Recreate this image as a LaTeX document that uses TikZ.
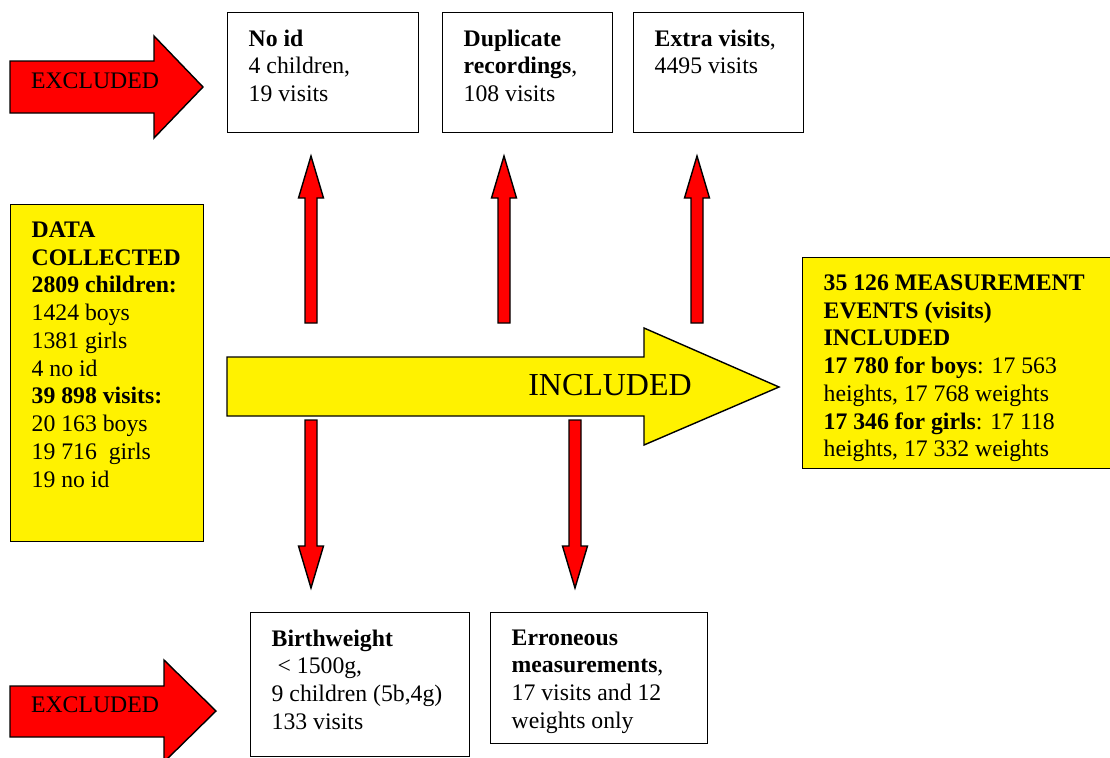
\documentclass[tikz,border=0pt]{standalone}
\usepackage{fontspec}
\setmainfont{Liberation Serif}
\usetikzlibrary{arrows}

\tikzset{
  infobox/.style={draw, line width=0.8pt, fill=white, anchor=north west,
    inner xsep=0.42cm, inner ysep=0.34cm, font=\fontsize{13.5}{15.8}\selectfont},
  yellowbox/.style={infobox, fill=yellow},
  redarrow/.style={draw, fill=red, line width=0.8pt},
  yellowarrow/.style={draw, fill=yellow, line width=0.8pt},
}
\newcommand{\boxtext}[3]{\parbox[c][#2][t]{#1}{\raggedright #3}}

\begin{document}
\begin{tikzpicture}[x=0.02cm, y=-0.02cm]
  \useasboundingbox (0,0) rectangle (1110,758);

  % excluded arrows
  \draw[redarrow] (10,61) -- (154,61) -- (154,36) -- (203,87)
    -- (154,138) -- (154,113) -- (10,113) -- cycle;
  \draw[redarrow] (10,686) -- (164,686) -- (164,660) -- (216,711)
    -- (164,762) -- (164,737) -- (10,737) -- cycle;
  \node[font=\fontsize{13.5}{15.8}\selectfont] (exclTop)    at (95,81)  {EXCLUDED};
  \node[font=\fontsize{13.5}{15.8}\selectfont] (exclBottom) at (95,705) {EXCLUDED};

  % included arrow
  \draw[yellowarrow] (227,357) -- (644,357) -- (644,328) -- (779,387)
    -- (644,445) -- (644,416) -- (227,416) -- cycle;
  \node[font=\fontsize{18.2}{21}\selectfont] (inclLabel) at (610,385) {INCLUDED};

  % up and down arrows
  \foreach \cx in {311,504,697}
    \draw[redarrow] (\cx-6,323) -- (\cx-6,198) -- (\cx-12.5,198) -- (\cx,156)
      -- (\cx+12.5,198) -- (\cx+6,198) -- (\cx+6,323) -- cycle;
  \foreach \cx in {311,575}
    \draw[redarrow] (\cx-6,420) -- (\cx-6,546) -- (\cx-12.5,546) -- (\cx,588)
      -- (\cx+12.5,546) -- (\cx+6,546) -- (\cx+6,420) -- cycle;

  % excluded boxes
  \node[infobox] (noid) at (227,12)
    {\boxtext{2.98cm}{1.72cm}{\textbf{No id}\\4 children,\\19 visits}};
  \node[infobox] (dupl) at (442,12)
    {\boxtext{2.56cm}{1.72cm}{\textbf{Duplicate}\\\textbf{recordings},\\108 visits}};
  \node[infobox] (extra) at (633,12)
    {\boxtext{2.56cm}{1.72cm}{\textbf{Extra visits},\\4495 visits}};
  \node[infobox] (birth) at (250,612)
    {\boxtext{3.54cm}{2.2cm}{\textbf{Birthweight}\\~< 1500g,\\9 children (5b,4g)\\133 visits}};
  \node[infobox] (erron) at (490,612)
    {\boxtext{3.5cm}{1.94cm}{\textbf{Erroneous}\\\textbf{measurements},\\17 visits and 12\\weights only}};

  % data boxes
  \node[yellowbox] (collected) at (10,204)
    {\boxtext{3.02cm}{6.06cm}{\textbf{DATA}\\\textbf{COLLECTED}\\\textbf{2809 children:}\\1424 boys\\1381 girls\\4 no id\\\textbf{39 898 visits:}\\20 163 boys\\19 716~ girls\\19 no id}};
  \node[yellowbox] (included) at (802,257)
    {\boxtext{5.4cm}{3.54cm}{\textbf{35 126 MEASUREMENT}\\\textbf{EVENTS (visits)}\\\textbf{INCLUDED}\\\textbf{17 780 for boys}: 17 563\\heights, 17 768 weights\\\textbf{17 346 for girls}: 17 118\\heights, 17 332 weights}};
\end{tikzpicture}
\end{document}
